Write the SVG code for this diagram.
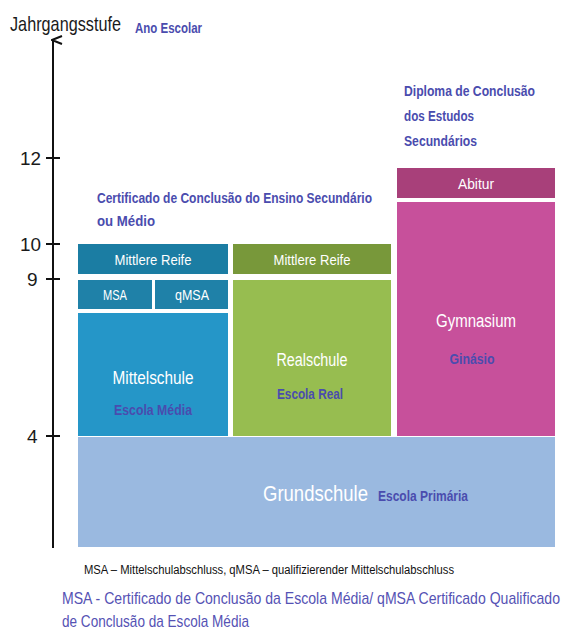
<svg xmlns="http://www.w3.org/2000/svg" width="562" height="630" viewBox="0 0 562 630">
<style>
text{font-family:"Liberation Sans Narrow","Liberation Sans",Arial,sans-serif}
.ax{font-size:19px;fill:#1a1a1a}
.bl{font-size:15px;fill:#4a4cae;font-weight:bold}
.wt{fill:#ffffff}
.s14{font-size:14px}
.s18{font-size:18px}
.mid{text-anchor:middle}
.tick{stroke:#111;stroke-width:2}
</style>
<defs>
<marker id="arr" markerWidth="10" markerHeight="12" refX="5" refY="2" orient="auto" markerUnits="userSpaceOnUse" viewBox="0 0 10 12">
<path d="M1,11 L5,1 L9,11" fill="none" stroke="#111" stroke-width="2"/>
</marker>
</defs>
<rect width="562" height="630" fill="#ffffff"/>
<g id="axis">
<line x1="53" y1="548" x2="53" y2="40" stroke="#111" stroke-width="2" marker-end="url(#arr)"/>
<line class="tick" x1="46" y1="158" x2="60" y2="158"/>
<line class="tick" x1="46" y1="244" x2="60" y2="244"/>
<line class="tick" x1="46" y1="279" x2="60" y2="279"/>
<line class="tick" x1="46" y1="436" x2="60" y2="436"/>
<text class="ax" x="20" y="165" textLength="21" lengthAdjust="spacingAndGlyphs">12</text>
<text class="ax" x="20" y="251" textLength="21" lengthAdjust="spacingAndGlyphs">10</text>
<text class="ax" x="27" y="286">9</text>
<text class="ax" x="27" y="443">4</text>
<text x="10" y="31" style="font-size:21px;fill:#1a1a1a" textLength="111" lengthAdjust="spacingAndGlyphs">Jahrgangsstufe</text>
<text class="bl" x="135" y="33" textLength="67" lengthAdjust="spacingAndGlyphs">Ano Escolar</text>
</g>
<g id="grundschule">
<rect x="78" y="437" width="477" height="110" fill="#9ab9e0"/>
<text class="wt" x="263" y="501" style="font-size:22px" textLength="105" lengthAdjust="spacingAndGlyphs">Grundschule</text>
<text class="bl" x="378" y="501" textLength="90" lengthAdjust="spacingAndGlyphs">Escola Primária</text>
</g>
<g id="mittelschule">
<rect x="78" y="313" width="150" height="123" fill="#2596c8"/>
<text class="wt s18 mid" x="153" y="384" textLength="81" lengthAdjust="spacingAndGlyphs">Mittelschule</text>
<text class="bl mid" x="153" y="415" textLength="78" lengthAdjust="spacingAndGlyphs">Escola Média</text>
</g>
<g id="msa">
<rect x="78" y="280" width="74" height="29" fill="#1f81a8"/>
<text class="wt s14 mid" x="115" y="300" textLength="24" lengthAdjust="spacingAndGlyphs">MSA</text>
</g>
<g id="qmsa">
<rect x="155" y="280" width="73" height="29" fill="#1f81a8"/>
<text class="wt s14 mid" x="192" y="300" textLength="34" lengthAdjust="spacingAndGlyphs">qMSA</text>
</g>
<g id="mittlere-reife-ms">
<rect x="78" y="244" width="150" height="30" fill="#1b7da3"/>
<text class="wt s14 mid" x="153" y="265" textLength="77" lengthAdjust="spacingAndGlyphs">Mittlere Reife</text>
</g>
<g id="realschule">
<rect x="233" y="280" width="158" height="156" fill="#97bd50"/>
<text class="wt s18 mid" x="312" y="366" textLength="71" lengthAdjust="spacingAndGlyphs">Realschule</text>
<text class="bl mid" x="310" y="399" textLength="66" lengthAdjust="spacingAndGlyphs">Escola Real</text>
</g>
<g id="mittlere-reife-rs">
<rect x="233" y="244" width="158" height="30" fill="#78983a"/>
<text class="wt s14 mid" x="312" y="265" textLength="77" lengthAdjust="spacingAndGlyphs">Mittlere Reife</text>
</g>
<g id="gymnasium">
<rect x="397" y="202" width="158" height="234" fill="#c7509b"/>
<text class="wt s18 mid" x="476" y="327" textLength="80" lengthAdjust="spacingAndGlyphs">Gymnasium</text>
<text class="bl mid" x="472" y="364" textLength="45" lengthAdjust="spacingAndGlyphs">Ginásio</text>
</g>
<g id="abitur">
<rect x="397" y="168" width="158" height="30" fill="#a8407a"/>
<text class="wt s14 mid" x="476" y="189" textLength="36" lengthAdjust="spacingAndGlyphs">Abitur</text>
</g>
<g id="labels">
<text class="bl" x="97" y="203" textLength="275" lengthAdjust="spacingAndGlyphs">Certificado de Conclusão do Ensino Secundário</text>
<text class="bl" x="97" y="226" textLength="58" lengthAdjust="spacingAndGlyphs">ou Médio</text>
<text class="bl" x="404" y="96" textLength="131" lengthAdjust="spacingAndGlyphs">Diploma de Conclusão</text>
<text class="bl" x="404" y="121" textLength="70" lengthAdjust="spacingAndGlyphs">dos Estudos</text>
<text class="bl" x="404" y="146" textLength="73" lengthAdjust="spacingAndGlyphs">Secundários</text>
<text x="84" y="574" style="font-size:12px;fill:#111" textLength="370" lengthAdjust="spacingAndGlyphs">MSA – Mittelschulabschluss, qMSA – qualifizierender Mittelschulabschluss</text>
<text x="62" y="604" style="font-size:17px;fill:#5552b4" textLength="498" lengthAdjust="spacingAndGlyphs">MSA - Certificado de Conclusão da Escola Média/ qMSA Certificado Qualificado</text>
<text x="62" y="627" style="font-size:17px;fill:#5552b4" textLength="187" lengthAdjust="spacingAndGlyphs">de Conclusão da Escola Média</text>
</g>
</svg>
